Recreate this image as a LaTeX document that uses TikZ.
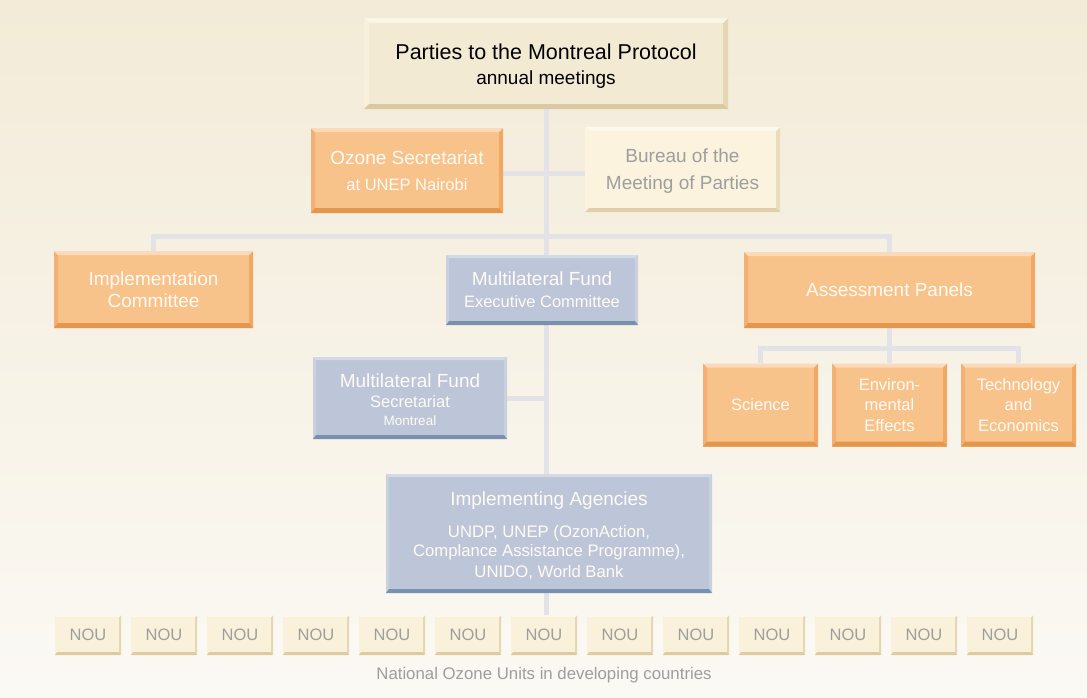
\documentclass[tikz,border=0pt]{standalone}
\usepackage{fontspec}
\setmainfont{Liberation Sans}
\usetikzlibrary{calc}
\definecolor{bgtop}{RGB}{243,235,216}
\definecolor{bgbot}{RGB}{251,249,244}
\definecolor{connc}{RGB}{226,226,231}
\definecolor{orF}{RGB}{248,194,139}
\definecolor{orT}{RGB}{252,217,184}
\definecolor{orB}{RGB}{228,150,76}
\definecolor{orL}{RGB}{244,176,116}
\definecolor{orR}{RGB}{242,168,101}
\definecolor{blF}{RGB}{188,198,216}
\definecolor{blT}{RGB}{211,218,230}
\definecolor{blB}{RGB}{121,144,174}
\definecolor{blL}{RGB}{201,209,223}
\definecolor{blR}{RGB}{201,209,223}
\definecolor{crF}{RGB}{243,234,212}
\definecolor{crT}{RGB}{250,245,230}
\definecolor{crB}{RGB}{217,200,162}
\definecolor{crL}{RGB}{248,240,220}
\definecolor{crR}{RGB}{230,214,178}
\definecolor{buF}{RGB}{251,243,222}
\definecolor{buT}{RGB}{253,248,236}
\definecolor{buB}{RGB}{224,208,170}
\definecolor{buR}{RGB}{236,221,186}
\definecolor{nuF}{RGB}{250,241,218}
\definecolor{nuT}{RGB}{252,247,234}
\definecolor{nuB}{RGB}{221,203,162}
\definecolor{nuR}{RGB}{230,215,180}
\definecolor{grayT}{RGB}{158,158,158}
\definecolor{whT}{RGB}{255,251,244}
\newcommand\fs[2]{\fontsize{#1}{#2}\selectfont}
% bevel: top, bottom, left, right colours, side/top width, bottom width
\newcommand\bevelpp[6]{%
 \coordinate (bNW) at (path picture bounding box.north west);
 \coordinate (bNE) at (path picture bounding box.north east);
 \coordinate (bSW) at (path picture bounding box.south west);
 \coordinate (bSE) at (path picture bounding box.south east);
 \fill[#3] (bNW) -- (bSW) -- ($(bSW)+(#5,#6)$) -- ($(bNW)+(#5,-#5)$) -- cycle;
 \fill[#4] (bNE) -- (bSE) -- ($(bSE)+(-#5,#6)$) -- ($(bNE)+(-#5,-#5)$) -- cycle;
 \fill[#1] (bNW) -- (bNE) -- ($(bNE)+(-#5,-#5)$) -- ($(bNW)+(#5,-#5)$) -- cycle;
 \fill[#2] (bSW) -- (bSE) -- ($(bSE)+(-#5,#6)$) -- ($(bSW)+(#5,#6)$) -- cycle;
}
\pgfdeclarelayer{bglayer}
\pgfdeclarelayer{edgelayer}
\pgfsetlayers{bglayer,edgelayer,main}
\tikzset{
 boxbase/.style={inner sep=0pt, align=center, font=\fs{19}{22}},
 orangebox/.style={boxbase, fill=orF, text=whT, path picture={\bevelpp{orT}{orB}{orL}{orR}{4pt}{5pt}}},
 bluebox/.style={boxbase, fill=blF, text=whT, path picture={\bevelpp{blT}{blB}{blL}{blR}{3pt}{4pt}}},
 creambox/.style={boxbase, fill=crF, text=black, path picture={\bevelpp{crT}{crB}{crL}{crR}{5pt}{5pt}}},
 bureaubox/.style={boxbase, fill=buF, text=grayT, path picture={\bevelpp{buT}{buB}{buF}{buR}{4pt}{4pt}}},
 noubox/.style={boxbase, fill=nuF, text=grayT, font=\fs{16.5}{19}, minimum width=66pt, minimum height=40pt, path picture={\bevelpp{nuT}{nuB}{nuF}{nuR}{2pt}{3pt}}},
 smallbox/.style={orangebox, font=\fs{16.5}{20.5}, minimum width=115pt, minimum height=83pt},
 conn/.style={draw=connc, line width=5pt},
}
\begin{document}
\begin{tikzpicture}[x=1pt,y=-1pt]
\useasboundingbox (0,0) rectangle (1087,697);
\begin{pgfonlayer}{bglayer}
\shade[top color=bgtop, bottom color=bgbot] (0,0) rectangle (1087,697);
\end{pgfonlayer}

\node[creambox, minimum width=364pt, minimum height=91pt, font=\fs{21.5}{24}] (parties) at (546,63.5)
 {\rule{0pt}{21.5pt}Parties to the Montreal Protocol\\[1pt]\fs{19}{24}annual meetings};
\node[orangebox, minimum width=192pt, minimum height=85pt, font=\fs{19}{28}] (ozone) at (407,170.5)
 {Ozone Secretariat\\[-2pt]\fs{16.5}{28}at UNEP Nairobi};
\node[bureaubox, minimum width=195pt, minimum height=85pt, font=\fs{19}{27}] (bureau) at (682.5,169.5)
 {\rule{0pt}{17pt}Bureau of the\\Meeting of Parties};
\node[orangebox, minimum width=199pt, minimum height=77pt] (impl) at (153.5,289.5)
 {Implementation\\Committee};
\node[bluebox, minimum width=192pt, minimum height=70pt, font=\fs{19}{23}] (mfexec) at (542,290)
 {Multilateral Fund\\[-1pt]\fs{16.5}{23}Executive Committee};
\node[orangebox, minimum width=291pt, minimum height=76pt] (assess) at (889.5,290)
 {Assessment Panels};
\node[bluebox, minimum width=194pt, minimum height=82pt, font=\fs{19}{21}] (mfsec) at (410,398)
 {\rule{0pt}{17pt}Multilateral Fund\\[-1pt]\fs{16.5}{20}Secretariat\\[-3pt]\fs{13.5}{19}Montreal};
\node[smallbox] (science) at (760.5,405) {Science};
\node[smallbox] (env) at (889.5,405) {Environ-\\mental\\Effects};
\node[smallbox] (tech) at (1018.5,405) {Technology\\and\\Economics};
\node[bluebox, minimum width=326pt, minimum height=119pt, font=\fs{16.7}{19.5}] (ia) at (549,533.5)
 {\fs{19}{22}\rule{0pt}{18pt}Implementing Agencies\\[12pt]UNDP, UNEP (OzonAction,\\Complance Assistance Programme),\\[1pt]UNIDO, World Bank};
\foreach \i in {1,...,13}{
 \node[noubox] (nou\i) at ({88+76*(\i-1)},635) {NOU};
}
\node[text=grayT, font=\fs{16.8}{19}, inner sep=0pt] (caption) at (544,675)
 {National Ozone Units in developing countries};

\coordinate (branch) at (546,236);
\coordinate (subbranch) at (889.5,348);
\begin{pgfonlayer}{edgelayer}
\draw[conn] (parties.south -| branch) -- (nou7.north -| branch);
\draw[conn] (ozone.east |- 0,173) -- (bureau.west |- 0,173);
\draw[conn] (impl.north) |- (branch) -| (assess.north);
\draw[conn] (mfsec.east) -- (mfsec.east -| branch);
\draw[conn] (assess.south) -- (env.north);
\draw[conn] (science.north) |- (subbranch) -| (tech.north);
\end{pgfonlayer}
\end{tikzpicture}
\end{document}
